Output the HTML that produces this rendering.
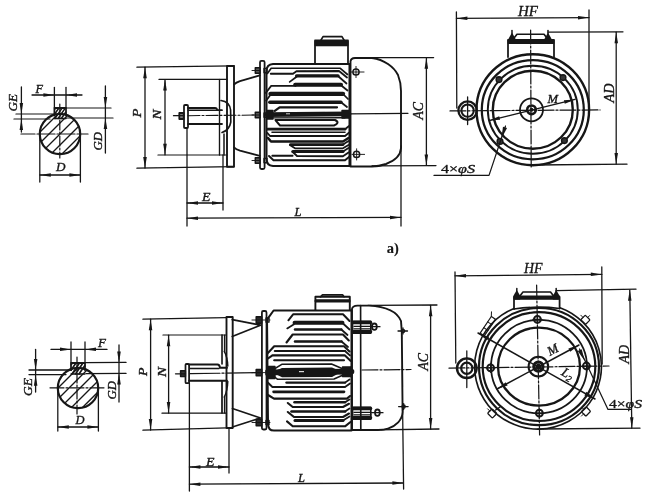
<!DOCTYPE html>
<html><head><meta charset="utf-8"><title>Motor outline drawing</title>
<style>
html,body{margin:0;padding:0;background:#fff;overflow:hidden;}
svg{display:block}
svg text{font-family:"Liberation Serif","DejaVu Serif",serif;fill:#151515;stroke:#151515;stroke-width:0.35px}
</style></head><body>
<svg width="650" height="495" viewBox="0 0 650 495">
<defs><filter id="soft" x="-2%" y="-2%" width="104%" height="104%"><feGaussianBlur stdDeviation="0.35"/></filter></defs>
<rect width="650" height="495" fill="#fff"/>
<g fill="none" stroke="#151515" stroke-linecap="round" stroke-linejoin="round" filter="url(#soft)">
<clipPath id="ca"><circle cx="60" cy="134" r="20.2"/></clipPath>
<g clip-path="url(#ca)">
<line x1="-14" y1="164" x2="46" y2="104" stroke-width="1.35"/>
<line x1="-3" y1="164" x2="57" y2="104" stroke-width="1.35"/>
<line x1="8" y1="164" x2="68" y2="104" stroke-width="1.35"/>
<line x1="19" y1="164" x2="79" y2="104" stroke-width="1.35"/>
<line x1="30" y1="164" x2="90" y2="104" stroke-width="1.35"/>
<line x1="41" y1="164" x2="101" y2="104" stroke-width="1.35"/>
<line x1="52" y1="164" x2="112" y2="104" stroke-width="1.35"/>
<line x1="63" y1="164" x2="123" y2="104" stroke-width="1.35"/>
<line x1="74" y1="164" x2="134" y2="104" stroke-width="1.35"/>
</g>
<ellipse cx="60" cy="134" rx="20.2" ry="20.2" stroke-width="2.16" fill="none"/>
<path d="M54.4,115.5 L54.4,108 L66,108 L66,115.5" stroke-width="1.76" fill="none"/>
<line x1="54.4" y1="118.5" x2="66" y2="118.5" stroke-width="1.35"/>
<line x1="54.7" y1="109.19999999999999" x2="55.5" y2="108.3" stroke-width="1.49"/>
<line x1="54.7" y1="114.0" x2="58.7" y2="108.3" stroke-width="1.49"/>
<line x1="54.9" y1="118.5" x2="61.9" y2="108.3" stroke-width="1.49"/>
<line x1="58.1" y1="118.5" x2="65.1" y2="108.3" stroke-width="1.49"/>
<line x1="61.3" y1="118.5" x2="65.7" y2="112.19999999999999" stroke-width="1.49"/>
<line x1="21" y1="134" x2="88" y2="134" stroke-width="1.22" stroke-dasharray="14 2 2 2"/>
<line x1="59.8" y1="104" x2="59.8" y2="158" stroke-width="1.22" stroke-dasharray="10 2 2 2"/>
<line x1="54.4" y1="87.5" x2="54.4" y2="108" stroke-width="1.28"/>
<line x1="66" y1="87.5" x2="66" y2="108" stroke-width="1.28"/>
<line x1="32" y1="95" x2="82" y2="95" stroke-width="1.28"/>
<polygon points="54.4,95.0 43.4,96.8 43.4,93.2" fill="#151515" stroke="none"/>
<polygon points="66.0,95.0 77.0,93.2 77.0,96.8" fill="#151515" stroke="none"/>
<text x="35.5" y="92.5" font-size="12" font-style="italic" font-weight="normal" text-anchor="start" textLength="7.5" lengthAdjust="spacingAndGlyphs">F</text>
<line x1="21.4" y1="87" x2="21.4" y2="132" stroke-width="1.28"/>
<polygon points="21.4,114.0 19.6,103.0 23.1,103.0" fill="#151515" stroke="none"/>
<polygon points="21.4,119.0 23.1,130.0 19.6,130.0" fill="#151515" stroke="none"/>
<line x1="16" y1="114" x2="54.4" y2="114" stroke-width="1.22"/>
<line x1="14" y1="119" x2="50" y2="119" stroke-width="1.22"/>
<text x="17" y="111.5" font-size="13" font-style="italic" font-weight="normal" text-anchor="start" transform="rotate(-90 17 111.5)" textLength="17.5" lengthAdjust="spacingAndGlyphs">GE</text>
<line x1="105.4" y1="86" x2="105.4" y2="153" stroke-width="1.28"/>
<polygon points="105.4,108.0 103.7,97.0 107.2,97.0" fill="#151515" stroke="none"/>
<polygon points="105.4,118.0 107.2,129.0 103.7,129.0" fill="#151515" stroke="none"/>
<line x1="66" y1="108" x2="111" y2="108" stroke-width="1.22"/>
<line x1="66" y1="118" x2="113" y2="118" stroke-width="1.22"/>
<text x="102" y="150.5" font-size="13" font-style="italic" font-weight="normal" text-anchor="start" transform="rotate(-90 102 150.5)" textLength="18.5" lengthAdjust="spacingAndGlyphs">GD</text>
<line x1="39.8" y1="134" x2="39.8" y2="182" stroke-width="1.28"/>
<line x1="80.4" y1="134" x2="80.4" y2="182" stroke-width="1.28"/>
<line x1="39.8" y1="175" x2="80.4" y2="175" stroke-width="1.28"/>
<polygon points="39.8,175.0 50.8,173.2 50.8,176.8" fill="#151515" stroke="none"/>
<polygon points="80.4,175.0 69.4,176.8 69.4,173.2" fill="#151515" stroke="none"/>
<text x="56" y="171" font-size="13" font-style="italic" font-weight="normal" text-anchor="start" textLength="9.5" lengthAdjust="spacingAndGlyphs">D</text>
<line x1="137" y1="67.2" x2="234" y2="65.8" stroke-width="1.35"/>
<line x1="137" y1="168.2" x2="234" y2="166.6" stroke-width="1.35"/>
<line x1="145" y1="67.2" x2="145" y2="168" stroke-width="1.28"/>
<polygon points="145.0,67.2 146.8,78.2 143.2,78.2" fill="#151515" stroke="none"/>
<polygon points="145.0,168.0 143.2,157.0 146.8,157.0" fill="#151515" stroke="none"/>
<line x1="159" y1="79.4" x2="227" y2="79.4" stroke-width="1.22"/>
<line x1="158" y1="155" x2="227" y2="155" stroke-width="1.22"/>
<line x1="165" y1="79.6" x2="165" y2="154.8" stroke-width="1.28"/>
<polygon points="165.0,79.6 166.8,90.6 163.2,90.6" fill="#151515" stroke="none"/>
<polygon points="165.0,154.8 163.2,143.8 166.8,143.8" fill="#151515" stroke="none"/>
<text x="141" y="117.5" font-size="13" font-style="italic" font-weight="normal" text-anchor="start" transform="rotate(-90 141 117.5)" textLength="9" lengthAdjust="spacingAndGlyphs">P</text>
<text x="161" y="119.5" font-size="13" font-style="italic" font-weight="normal" text-anchor="start" transform="rotate(-90 161 119.5)" textLength="10" lengthAdjust="spacingAndGlyphs">N</text>
<rect x="227" y="66" width="7" height="100.8" rx="0" stroke-width="1.89" fill="none"/>
<line x1="219.5" y1="79.4" x2="219.5" y2="155" stroke-width="1.35"/>
<line x1="224" y1="134" x2="224" y2="155" stroke-width="1.49"/>
<path d="M221,100.5 Q229.5,101.5 230.6,110 L230.8,122 Q229.5,130 222,132.5" stroke-width="1.62" fill="none"/>
<rect x="184" y="105" width="4" height="23" rx="1" stroke-width="1.76" fill="none"/>
<path d="M188,108 L215,108 Q217,108 217.2,110.2 L222,110.2" stroke-width="1.76" fill="none"/>
<path d="M188,124 L222,124" stroke-width="1.76" fill="none"/>
<line x1="188" y1="110.2" x2="217" y2="110.2" stroke-width="1.35"/>
<rect x="179.3" y="113" width="4.4" height="6" rx="0" stroke-width="1.76" fill="#777"/>
<line x1="173.5" y1="115.7" x2="184" y2="115.7" stroke-width="1.28"/>
<line x1="187" y1="128" x2="187" y2="226" stroke-width="1.28"/>
<line x1="223" y1="155" x2="223" y2="210" stroke-width="1.28"/>
<line x1="187" y1="203" x2="223" y2="203" stroke-width="1.28"/>
<polygon points="187.0,203.0 198.0,201.2 198.0,204.8" fill="#151515" stroke="none"/>
<polygon points="223.0,203.0 212.0,204.8 212.0,201.2" fill="#151515" stroke="none"/>
<text x="202" y="201" font-size="13" font-style="italic" font-weight="normal" text-anchor="start" textLength="8.5" lengthAdjust="spacingAndGlyphs">E</text>
<line x1="187" y1="218.2" x2="401" y2="217.4" stroke-width="1.28"/>
<polygon points="187.0,218.2 198.0,216.4 198.0,219.9" fill="#151515" stroke="none"/>
<polygon points="401.0,217.4 390.0,219.2 390.0,215.7" fill="#151515" stroke="none"/>
<text x="294.5" y="215.5" font-size="13" font-style="italic" font-weight="normal" text-anchor="start" textLength="7" lengthAdjust="spacingAndGlyphs">L</text>
<line x1="401" y1="146" x2="401" y2="226" stroke-width="1.28"/>
<line x1="188" y1="115.7" x2="260" y2="115" stroke-width="1.08" stroke-dasharray="12 2 2 2"/>
<line x1="349.5" y1="113.8" x2="408" y2="113.3" stroke-width="1.22"/>
<path d="M234,84.5 Q236,82.6 240,81.2 L259.8,75.3" stroke-width="1.76" fill="none"/>
<path d="M234,147.3 Q236,149.4 240,150.6 L259.8,155.8" stroke-width="1.76" fill="none"/>
<rect x="260" y="60.8" width="4.6" height="108.2" rx="1.5" stroke-width="1.76" fill="none"/>
<rect x="255.3" y="67.7" width="4.7" height="5.6" rx="0" stroke-width="1.49" fill="#555"/>
<rect x="264" y="68.3" width="3" height="4.4" rx="0" stroke-width="1.35" fill="none"/>
<line x1="252" y1="70.5" x2="260" y2="70.5" stroke-width="0.94"/>
<rect x="255.3" y="112.2" width="4.7" height="5.6" rx="0" stroke-width="1.49" fill="#555"/>
<rect x="264" y="112.8" width="3" height="4.4" rx="0" stroke-width="1.35" fill="none"/>
<line x1="252" y1="115" x2="260" y2="115" stroke-width="0.94"/>
<rect x="255.3" y="157.7" width="4.7" height="5.6" rx="0" stroke-width="1.49" fill="#555"/>
<rect x="264" y="158.3" width="3" height="4.4" rx="0" stroke-width="1.35" fill="none"/>
<line x1="252" y1="160.5" x2="260" y2="160.5" stroke-width="0.94"/>
<path d="M349.5,64 L273,64 Q266.5,64.5 266.5,71 L266.5,159 Q266.5,165.5 273,166 L349.5,166 Z" stroke-width="2.03" fill="none"/>
<path d="M315,64 L315,40.5 L348,40.5 L348,64" stroke-width="1.76" fill="none"/>
<rect x="315.5" y="41.5" width="32" height="4" rx="0" stroke-width="1.35" fill="#151515"/>
<path d="M320.5,41 L323,36.6 L342,36.6 L344.5,41" stroke-width="1.62" fill="none"/>
<path d="M267.4,73.5 L271.2,68.2 L340,68.2 L347.5,74.5" stroke-width="1.64" fill="none"/>
<path d="M270.8,73.8 L293,73.8 L296.5,71.2 L339,71 L347,77.5" stroke-width="1.87" fill="none"/>
<line x1="296.6" y1="75.9" x2="338" y2="75.9" stroke-width="3.39"/>
<path d="M296.6,76.8 L289.7,81.9" stroke-width="1.75" fill="none"/>
<path d="M338,76 L346.5,83.5" stroke-width="1.75" fill="none"/>
<path d="M265.9,92.8 L271.2,85.9 L295.5,85.9" stroke-width="1.75" fill="none"/>
<line x1="295.2" y1="84.8" x2="341" y2="84.8" stroke-width="4.09"/>
<path d="M341,85.2 L347.5,90.5" stroke-width="1.75" fill="none"/>
<line x1="270.5" y1="93.8" x2="343" y2="93.8" stroke-width="4.33"/>
<path d="M270.6,94.8 L266.2,100.5" stroke-width="1.75" fill="none"/>
<path d="M343,94 L348,99" stroke-width="1.75" fill="none"/>
<line x1="269.8" y1="102.2" x2="341" y2="102.2" stroke-width="3.39"/>
<path d="M341,102.2 L347,107" stroke-width="1.75" fill="none"/>
<path d="M274.8,110.8 L279.6,107.3 L337,107.3" stroke-width="2.22" fill="none"/>
<line x1="267" y1="114.6" x2="349" y2="113.9" stroke-width="4.56"/>
<rect x="266.8" y="110.5" width="6.2" height="8.5" rx="0" stroke-width="1.35" fill="#151515"/>
<rect x="342" y="110.5" width="7" height="7.5" rx="0" stroke-width="1.35" fill="#151515"/>
<rect x="286" y="113.3" width="4" height="1" fill="#ccc" stroke="none"/>
<line x1="272" y1="117.9" x2="345" y2="117.7" stroke-width="1.40"/>
<path d="M275.4,120 L335,120 Q340.5,122.7 334,125.5 L280,125.5 L275.6,120.4" stroke-width="1.99" fill="none"/>
<line x1="267.6" y1="129.2" x2="345" y2="129.2" stroke-width="2.69"/>
<path d="M345,129.2 L349,126" stroke-width="1.75" fill="none"/>
<line x1="272" y1="132.3" x2="345" y2="132.3" stroke-width="1.52"/>
<path d="M267.4,133 L270,136 L345,136 L349,132.8" stroke-width="1.87" fill="none"/>
<path d="M268,138 L271,141.5 L343,141.5 L348.5,138" stroke-width="2.57" fill="none"/>
<line x1="290.5" y1="144.6" x2="343" y2="144.6" stroke-width="2.81"/>
<path d="M343,144.6 L348.5,141" stroke-width="1.75" fill="none"/>
<path d="M289.8,145 L295,148.3 L343,148.3 L348.5,145" stroke-width="1.75" fill="none"/>
<line x1="292.8" y1="151.4" x2="343" y2="151.4" stroke-width="3.04"/>
<path d="M343,151.4 L348.5,148" stroke-width="1.75" fill="none"/>
<path d="M272.3,155.7 L292.6,155.7" stroke-width="1.87" fill="none"/>
<path d="M292.8,152 L297,156 L343,156.2 L348.5,152.5" stroke-width="1.87" fill="none"/>
<path d="M269,156 L273.5,160.2 L345,160.2 L349,157" stroke-width="1.99" fill="none"/>
<path d="M350.5,166.5 L350.5,61.5 Q350.8,58.2 355,58 L372,58 C384,59.5 394,67 398,75 C400,80 401,84 401,91 L401,148 C400.6,155.5 394,161 386,164 C381,165.7 377,166.5 372,166.5 Z" stroke-width="1.89" fill="none"/>
<ellipse cx="356" cy="72" rx="3.1" ry="3.1" stroke-width="1.49" fill="none"/>
<line x1="351.4" y1="72" x2="364" y2="72" stroke-width="0.94"/>
<line x1="356" y1="66.4" x2="356" y2="77.6" stroke-width="0.94"/>
<ellipse cx="356.6" cy="154.4" rx="3.1" ry="3.1" stroke-width="1.49" fill="none"/>
<line x1="352.0" y1="154.4" x2="364.6" y2="154.4" stroke-width="0.94"/>
<line x1="356.6" y1="148.8" x2="356.6" y2="160.0" stroke-width="0.94"/>
<line x1="368" y1="57.6" x2="433.6" y2="57.6" stroke-width="1.28"/>
<line x1="372" y1="165.8" x2="436" y2="165.6" stroke-width="1.28"/>
<line x1="426.4" y1="57.8" x2="426.4" y2="165.4" stroke-width="1.28"/>
<polygon points="426.4,57.8 428.1,68.8 424.6,68.8" fill="#151515" stroke="none"/>
<polygon points="426.4,165.4 424.6,154.4 428.1,154.4" fill="#151515" stroke="none"/>
<text x="423" y="119.5" font-size="14" font-style="italic" font-weight="normal" text-anchor="start" transform="rotate(-90 423 119.5)" textLength="17.5" lengthAdjust="spacingAndGlyphs">AC</text>
<ellipse cx="532.8" cy="109.7" rx="56.3" ry="55.5" stroke-width="2.36" fill="none"/>
<ellipse cx="532.8" cy="109.7" rx="51" ry="49.6" stroke-width="2.23" fill="none"/>
<ellipse cx="532.8" cy="109.7" rx="45" ry="44" stroke-width="1.89" fill="none"/>
<ellipse cx="532.8" cy="109.7" rx="40" ry="39" stroke-width="2.36" fill="none"/>
<ellipse cx="531.5" cy="109.8" rx="11.5" ry="11.5" stroke-width="1.76" fill="none"/>
<ellipse cx="531.5" cy="109.8" rx="4.3" ry="4.3" stroke-width="2.56" fill="none"/>
<ellipse cx="531.5" cy="109.8" rx="1.3" ry="1.3" stroke-width="1.35" fill="#151515"/>
<ellipse cx="499" cy="79.6" rx="2.9" ry="2.9" stroke-width="1.35" fill="#333"/>
<ellipse cx="563" cy="77.6" rx="2.9" ry="2.9" stroke-width="1.35" fill="#333"/>
<ellipse cx="500" cy="141.4" rx="2.9" ry="2.9" stroke-width="1.35" fill="#333"/>
<ellipse cx="564.4" cy="140.6" rx="2.9" ry="2.9" stroke-width="1.35" fill="#333"/>
<ellipse cx="467.6" cy="110.6" rx="9.2" ry="9.2" stroke-width="2.29" fill="none"/>
<ellipse cx="467.6" cy="110.6" rx="6.2" ry="6.2" stroke-width="2.03" fill="none"/>
<line x1="467.6" y1="97" x2="467.6" y2="124.5" stroke-width="1.28"/>
<line x1="450" y1="110.9" x2="600" y2="109.9" stroke-width="1.22" stroke-dasharray="16 2 2 2"/>
<line x1="530.6" y1="30" x2="531.2" y2="167" stroke-width="1.22" stroke-dasharray="14 2 2 2"/>
<path d="M508,57 L508,40 L554,40 L554,57" stroke-width="1.76" fill="none"/>
<rect x="508.5" y="40" width="45" height="3.2" rx="0" stroke-width="1.35" fill="#151515"/>
<path d="M512.5,40 L517,34.2 L544,34.2 L548.5,40" stroke-width="1.62" fill="none"/>
<line x1="512" y1="30.5" x2="512" y2="40" stroke-width="1.49"/>
<polygon points="508.2,42.5 508.4,39 512,32.5 515.6,39 515.8,42.5" fill="#151515" stroke="none"/>
<line x1="548" y1="30.5" x2="548" y2="40" stroke-width="1.49"/>
<polygon points="544.2,42.5 544.4,39 548,32.5 551.6,39 551.8,42.5" fill="#151515" stroke="none"/>
<line x1="456.4" y1="12" x2="456.8" y2="108" stroke-width="1.28"/>
<line x1="589" y1="10" x2="589" y2="112" stroke-width="1.28"/>
<line x1="456.4" y1="18.4" x2="589" y2="17.6" stroke-width="1.28"/>
<polygon points="456.4,18.4 467.4,16.6 467.4,20.1" fill="#151515" stroke="none"/>
<polygon points="589.0,17.6 578.0,19.4 578.0,15.9" fill="#151515" stroke="none"/>
<text x="518" y="16" font-size="15" font-style="italic" font-weight="normal" text-anchor="start" textLength="20" lengthAdjust="spacingAndGlyphs">HF</text>
<line x1="548" y1="32.2" x2="623" y2="31.8" stroke-width="1.28"/>
<line x1="534" y1="165" x2="627" y2="164.2" stroke-width="1.28"/>
<line x1="616.2" y1="32.2" x2="616.2" y2="164" stroke-width="1.28"/>
<polygon points="616.2,32.2 618.0,43.2 614.5,43.2" fill="#151515" stroke="none"/>
<polygon points="616.2,164.0 614.5,153.0 618.0,153.0" fill="#151515" stroke="none"/>
<text x="613.5" y="102.5" font-size="14" font-style="italic" font-weight="normal" text-anchor="start" transform="rotate(-90 613.5 102.5)" textLength="19" lengthAdjust="spacingAndGlyphs">AD</text>
<line x1="489" y1="120.6" x2="575" y2="99.4" stroke-width="1.35"/>
<polygon points="489.0,120.6 499.2,116.2 500.1,119.7" fill="#151515" stroke="none"/>
<polygon points="575.0,99.4 564.8,103.8 563.9,100.3" fill="#151515" stroke="none"/>
<text x="547.5" y="103" font-size="13" font-style="italic" font-weight="normal" text-anchor="start" textLength="10.5" lengthAdjust="spacingAndGlyphs">M</text>
<path d="M505.5,126 L489,175.4 L434,175.4" stroke-width="1.22" fill="none"/>
<polygon points="501.3,138.8 503.0,126.7 507.0,128.0" fill="#151515" stroke="none"/>
<text x="441" y="173" font-size="13" textLength="34" lengthAdjust="spacingAndGlyphs"><tspan>4×</tspan><tspan font-style="italic">φS</tspan></text>
<text x="386.8" y="253.2" font-size="14.5" font-style="normal" font-weight="bold" text-anchor="start" style="stroke-width:0.1px">a)</text>
<clipPath id="cb"><circle cx="78" cy="388" r="20.2"/></clipPath>
<g clip-path="url(#cb)">
<line x1="6" y1="418" x2="66" y2="358" stroke-width="1.35"/>
<line x1="17" y1="418" x2="77" y2="358" stroke-width="1.35"/>
<line x1="28" y1="418" x2="88" y2="358" stroke-width="1.35"/>
<line x1="39" y1="418" x2="99" y2="358" stroke-width="1.35"/>
<line x1="50" y1="418" x2="110" y2="358" stroke-width="1.35"/>
<line x1="61" y1="418" x2="121" y2="358" stroke-width="1.35"/>
<line x1="72" y1="418" x2="132" y2="358" stroke-width="1.35"/>
<line x1="83" y1="418" x2="143" y2="358" stroke-width="1.35"/>
<line x1="94" y1="418" x2="154" y2="358" stroke-width="1.35"/>
</g>
<ellipse cx="78" cy="388" rx="20.2" ry="20.2" stroke-width="2.16" fill="none"/>
<path d="M71,370 L71,363 L85,363 L85,370" stroke-width="1.76" fill="none"/>
<line x1="71" y1="374" x2="85" y2="374" stroke-width="1.35"/>
<line x1="71.3" y1="364.55" x2="72.3" y2="363.3" stroke-width="1.62"/>
<line x1="71.3" y1="369.8" x2="75.8" y2="363.3" stroke-width="1.62"/>
<line x1="72" y1="374" x2="79.3" y2="363.3" stroke-width="1.62"/>
<line x1="75.5" y1="374" x2="82.8" y2="363.3" stroke-width="1.62"/>
<line x1="79" y1="374" x2="84.7" y2="365.7" stroke-width="1.62"/>
<line x1="50" y1="387.8" x2="104" y2="387.8" stroke-width="1.22" stroke-dasharray="14 2 2 2"/>
<line x1="77" y1="357" x2="77" y2="414" stroke-width="1.22" stroke-dasharray="10 2 2 2"/>
<line x1="71" y1="342" x2="71" y2="363" stroke-width="1.28"/>
<line x1="85" y1="342" x2="85" y2="363" stroke-width="1.28"/>
<line x1="51" y1="349.4" x2="107" y2="349.4" stroke-width="1.28"/>
<polygon points="71.0,349.4 60.0,351.1 60.0,347.6" fill="#151515" stroke="none"/>
<polygon points="85.0,349.4 96.0,347.6 96.0,351.1" fill="#151515" stroke="none"/>
<text x="98" y="347" font-size="13" font-style="italic" font-weight="normal" text-anchor="start" textLength="8" lengthAdjust="spacingAndGlyphs">F</text>
<line x1="35.6" y1="349.5" x2="35.6" y2="392" stroke-width="1.28"/>
<polygon points="35.6,370.0 33.9,359.0 37.4,359.0" fill="#151515" stroke="none"/>
<polygon points="35.6,374.8 37.4,385.8 33.9,385.8" fill="#151515" stroke="none"/>
<line x1="29" y1="370" x2="71" y2="370" stroke-width="1.35"/>
<line x1="29" y1="374.6" x2="66" y2="374.6" stroke-width="1.35"/>
<text x="32" y="396" font-size="13" font-style="italic" font-weight="normal" text-anchor="start" transform="rotate(-90 32 396)" textLength="18" lengthAdjust="spacingAndGlyphs">GE</text>
<line x1="119" y1="345" x2="119" y2="402" stroke-width="1.28"/>
<polygon points="119.0,362.6 117.2,351.6 120.8,351.6" fill="#151515" stroke="none"/>
<polygon points="119.0,373.6 120.8,384.6 117.2,384.6" fill="#151515" stroke="none"/>
<line x1="85" y1="362.6" x2="126" y2="362.4" stroke-width="1.35"/>
<line x1="86" y1="373.6" x2="126" y2="373.4" stroke-width="1.35"/>
<text x="116" y="399.5" font-size="13" font-style="italic" font-weight="normal" text-anchor="start" transform="rotate(-90 116 399.5)" textLength="18.5" lengthAdjust="spacingAndGlyphs">GD</text>
<line x1="57.8" y1="388" x2="57.8" y2="431" stroke-width="1.28"/>
<line x1="98.4" y1="388" x2="98.4" y2="431" stroke-width="1.28"/>
<line x1="57.8" y1="427" x2="98.4" y2="427" stroke-width="1.28"/>
<polygon points="57.8,427.0 68.8,425.2 68.8,428.8" fill="#151515" stroke="none"/>
<polygon points="98.4,427.0 87.4,428.8 87.4,425.2" fill="#151515" stroke="none"/>
<text x="75.5" y="424" font-size="13" font-style="italic" font-weight="normal" text-anchor="start" textLength="9" lengthAdjust="spacingAndGlyphs">D</text>
<line x1="143" y1="319.2" x2="226.5" y2="317.6" stroke-width="1.35"/>
<line x1="143" y1="430.2" x2="227" y2="427.8" stroke-width="1.35"/>
<line x1="150.6" y1="319.2" x2="150.6" y2="430" stroke-width="1.28"/>
<polygon points="150.6,319.2 152.3,330.2 148.8,330.2" fill="#151515" stroke="none"/>
<polygon points="150.6,430.0 148.8,419.0 152.3,419.0" fill="#151515" stroke="none"/>
<line x1="163" y1="335" x2="226.5" y2="335" stroke-width="1.22"/>
<line x1="162" y1="413.2" x2="226.5" y2="413.2" stroke-width="1.22"/>
<line x1="168.6" y1="335.2" x2="168.6" y2="413" stroke-width="1.28"/>
<polygon points="168.6,335.2 170.3,346.2 166.8,346.2" fill="#151515" stroke="none"/>
<polygon points="168.6,413.0 166.8,402.0 170.3,402.0" fill="#151515" stroke="none"/>
<text x="146.8" y="376" font-size="13" font-style="italic" font-weight="normal" text-anchor="start" transform="rotate(-90 146.8 376)" textLength="8.5" lengthAdjust="spacingAndGlyphs">P</text>
<text x="165.5" y="377" font-size="13" font-style="italic" font-weight="normal" text-anchor="start" transform="rotate(-90 165.5 377)" textLength="10" lengthAdjust="spacingAndGlyphs">N</text>
<rect x="226.5" y="317" width="6.2" height="111" rx="0" stroke-width="1.89" fill="none"/>
<line x1="222" y1="335" x2="222" y2="364" stroke-width="1.62"/>
<line x1="222" y1="381" x2="222" y2="413" stroke-width="1.76"/>
<line x1="224.5" y1="335" x2="224.5" y2="352" stroke-width="1.22"/>
<line x1="224.5" y1="397" x2="224.5" y2="413" stroke-width="1.22"/>
<path d="M224.3,351.5 Q227.4,357 227.8,366" stroke-width="1.49" fill="none"/>
<path d="M224.3,397 Q227.4,391 227.8,381.5" stroke-width="1.49" fill="none"/>
<rect x="185.5" y="364" width="3.6" height="19.2" rx="1" stroke-width="1.76" fill="none"/>
<path d="M189,364.5 L217.5,364.5 Q219.6,364.6 220,367.8 L227,367.8" stroke-width="1.89" fill="none"/>
<line x1="190" y1="368.5" x2="219" y2="368.5" stroke-width="1.49"/>
<line x1="189" y1="380.7" x2="227" y2="380.7" stroke-width="1.89"/>
<rect x="180.6" y="370.8" width="4.8" height="5.8" rx="0" stroke-width="1.49" fill="#333"/>
<line x1="175.5" y1="373.8" x2="185.5" y2="373.8" stroke-width="1.28"/>
<line x1="190" y1="373.7" x2="262" y2="372.6" stroke-width="1.22" stroke-dasharray="30 2 2 2"/>
<path d="M232.2,319.7 L260.5,325.2 L232.2,336.5" stroke-width="1.69" fill="none"/>
<path d="M232.4,408.5 L260.5,418 L232.4,427" stroke-width="1.69" fill="none"/>
<rect x="261.9" y="311" width="4.6" height="118.5" rx="1.5" stroke-width="1.76" fill="none"/>
<rect x="256.2" y="316.8" width="5.6" height="6.4" rx="0" stroke-width="1.49" fill="#2a2a2a"/>
<rect x="266" y="317.8" width="3" height="4.4" rx="0" stroke-width="1.35" fill="none"/>
<line x1="252" y1="320" x2="270" y2="320" stroke-width="0.94"/>
<rect x="256.2" y="369.40000000000003" width="5.6" height="6.4" rx="0" stroke-width="1.49" fill="#2a2a2a"/>
<rect x="266" y="370.40000000000003" width="3" height="4.4" rx="0" stroke-width="1.35" fill="none"/>
<line x1="252" y1="372.6" x2="270" y2="372.6" stroke-width="0.94"/>
<rect x="256.2" y="419.3" width="5.6" height="6.4" rx="0" stroke-width="1.49" fill="#2a2a2a"/>
<rect x="266" y="420.3" width="3" height="4.4" rx="0" stroke-width="1.35" fill="none"/>
<line x1="252" y1="422.5" x2="270" y2="422.5" stroke-width="0.94"/>
<path d="M351.5,310.5 L273.6,310.5 L267,319.7 L268,424 Q268.2,430.6 274,430.6 L351.5,430.6 Z" stroke-width="2.03" fill="none"/>
<path d="M315.4,310 L315.4,296.8 L349.8,296.8 L349.8,310" stroke-width="1.89" fill="none"/>
<line x1="316.2" y1="300.9" x2="349" y2="300.9" stroke-width="3.38"/>
<path d="M320.5,296.8 L322.5,294.8 L342.5,294.8 L344,296.8" stroke-width="1.76" fill="none"/>
<path d="M288.4,320.3 L293.3,314.2 L343,314.2 L349.5,321" stroke-width="1.99" fill="none"/>
<line x1="294.5" y1="322.8" x2="342.5" y2="322.8" stroke-width="3.86"/>
<path d="M342.5,323 L349.5,329.5" stroke-width="1.75" fill="none"/>
<path d="M294,324.2 L287.2,328.4" stroke-width="1.75" fill="none"/>
<line x1="295" y1="329.5" x2="341.3" y2="329.5" stroke-width="2.46"/>
<path d="M341.3,329.5 L347.5,335" stroke-width="1.75" fill="none"/>
<path d="M286.5,342.5 L292.7,334.5 L343,334.5 L348.8,340.5" stroke-width="2.11" fill="none"/>
<line x1="295" y1="341.5" x2="341.5" y2="341.5" stroke-width="2.46"/>
<path d="M341.5,341.5 L348,347" stroke-width="1.75" fill="none"/>
<path d="M267.6,353.4 L274.2,346.2 L344,346.2 L349.5,351.5" stroke-width="2.11" fill="none"/>
<line x1="274.8" y1="351" x2="345" y2="351" stroke-width="2.11"/>
<path d="M345,351 L350,355.5" stroke-width="1.75" fill="none"/>
<path d="M268,358.5 L272.4,355.4 L345,355.4 L350.5,360.8" stroke-width="2.11" fill="none"/>
<line x1="274.2" y1="360.3" x2="344" y2="360.3" stroke-width="2.11"/>
<line x1="268.5" y1="372.4" x2="351.5" y2="371.6" stroke-width="5.67"/>
<polygon points="272,372.3 282,368 332,367.6 342,371.7 332,376.9 282,377.3" fill="#151515" stroke="none"/>
<rect x="268.5" y="366.5" width="6.5" height="12" rx="0" stroke-width="1.35" fill="#151515"/>
<rect x="342.5" y="367" width="9" height="9.5" rx="0" stroke-width="1.35" fill="#151515"/>
<path d="M275,368.5 L282.2,364.2 L331.5,364 L342,368.5" stroke-width="1.52" fill="none"/>
<path d="M274,376.5 L277.3,379.2 L334,379 L342,375.5" stroke-width="1.52" fill="none"/>
<rect x="299" y="371" width="5" height="1.2" fill="#ddd" stroke="none"/>
<line x1="286.5" y1="382.6" x2="345" y2="382.6" stroke-width="2.34"/>
<path d="M345,382.6 L349.5,379.5" stroke-width="1.75" fill="none"/>
<path d="M268,382.8 L272.4,387 L345,387 L350,383.5" stroke-width="1.87" fill="none"/>
<line x1="273.6" y1="391.8" x2="344" y2="391.8" stroke-width="2.69"/>
<path d="M268,395 L274,398.6 L347,398.6 L350,396" stroke-width="2.11" fill="none"/>
<line x1="294.5" y1="402.3" x2="345" y2="402.3" stroke-width="2.46"/>
<path d="M345,402.3 L349.5,399.5" stroke-width="1.75" fill="none"/>
<path d="M287.8,403 L292.7,407 L343,407 L349,403.8" stroke-width="2.11" fill="none"/>
<line x1="291.5" y1="411.5" x2="345" y2="411.5" stroke-width="2.69"/>
<path d="M345,411.5 L349.5,408.5" stroke-width="1.75" fill="none"/>
<path d="M287.8,412 L294,417 L343,417 L349,413.5" stroke-width="2.11" fill="none"/>
<line x1="295" y1="420.5" x2="343" y2="420.5" stroke-width="3.04"/>
<path d="M343,420.5 L349.5,416.5" stroke-width="1.75" fill="none"/>
<path d="M287,421.4 L292.7,426.3 L345,426.3 L350.5,422" stroke-width="2.11" fill="none"/>
<path d="M352,430 L352,309 Q352.4,305.8 357.5,305.6 L369,305.6 C384,306.4 397,311 401,321 L401.8,332 L402.6,412 C402.3,420 396,426 388,428.6 C385,429.6 382,430 378,430 Z" stroke-width="1.89" fill="none"/>
<line x1="360.6" y1="305.6" x2="360.8" y2="430" stroke-width="1.62"/>
<rect x="352.6" y="321.2" width="18.2" height="12" rx="0" stroke-width="1.62" fill="none"/>
<line x1="353.5" y1="322.59999999999997" x2="370.5" y2="322.59999999999997" stroke-width="3.51"/>
<line x1="353.5" y1="331.8" x2="370.5" y2="331.8" stroke-width="3.51"/>
<line x1="354" y1="326.3" x2="371" y2="326.3" stroke-width="1.22"/>
<line x1="354" y1="328.8" x2="371" y2="328.8" stroke-width="1.22"/>
<ellipse cx="374.4" cy="326.7" rx="2.4" ry="3.2" stroke-width="1.76" fill="none"/>
<line x1="370.8" y1="326.7" x2="380" y2="326.7" stroke-width="1.22"/>
<rect x="352.6" y="407.2" width="18.2" height="12" rx="0" stroke-width="1.62" fill="none"/>
<line x1="353.5" y1="408.59999999999997" x2="370.5" y2="408.59999999999997" stroke-width="3.51"/>
<line x1="353.5" y1="417.8" x2="370.5" y2="417.8" stroke-width="3.51"/>
<line x1="354" y1="412.3" x2="371" y2="412.3" stroke-width="1.22"/>
<line x1="354" y1="414.8" x2="371" y2="414.8" stroke-width="1.22"/>
<ellipse cx="377.4" cy="412.7" rx="2.4" ry="3.2" stroke-width="1.76" fill="none"/>
<line x1="370.8" y1="412.7" x2="383" y2="412.7" stroke-width="1.22"/>
<ellipse cx="403" cy="331" rx="1.6" ry="1.6" stroke-width="1.35" fill="none"/>
<line x1="398" y1="331" x2="407.5" y2="331" stroke-width="1.28"/>
<line x1="403" y1="328" x2="403" y2="334" stroke-width="1.28"/>
<ellipse cx="403.6" cy="406.6" rx="1.6" ry="1.6" stroke-width="1.35" fill="none"/>
<line x1="398.6" y1="406.6" x2="408.1" y2="406.6" stroke-width="1.28"/>
<line x1="403.6" y1="403.6" x2="403.6" y2="409.6" stroke-width="1.28"/>
<line x1="362" y1="370" x2="411" y2="369.5" stroke-width="1.22" stroke-dasharray="16 2 2 2"/>
<line x1="368" y1="305.4" x2="437" y2="305" stroke-width="1.28"/>
<line x1="378" y1="429.8" x2="439" y2="429" stroke-width="1.28"/>
<line x1="430.6" y1="305.3" x2="430.6" y2="429" stroke-width="1.28"/>
<polygon points="430.6,305.3 432.4,316.3 428.9,316.3" fill="#151515" stroke="none"/>
<polygon points="430.6,429.0 428.9,418.0 432.4,418.0" fill="#151515" stroke="none"/>
<text x="428" y="370.5" font-size="14" font-style="italic" font-weight="normal" text-anchor="start" transform="rotate(-90 428 370.5)" textLength="17.5" lengthAdjust="spacingAndGlyphs">AC</text>
<line x1="189.4" y1="383" x2="189.4" y2="491" stroke-width="1.28"/>
<line x1="229" y1="428" x2="229" y2="473" stroke-width="1.28"/>
<line x1="189.4" y1="467" x2="229" y2="467" stroke-width="1.28"/>
<polygon points="189.4,467.0 200.4,465.2 200.4,468.8" fill="#151515" stroke="none"/>
<polygon points="229.0,467.0 218.0,468.8 218.0,465.2" fill="#151515" stroke="none"/>
<text x="206" y="466" font-size="13" font-style="italic" font-weight="normal" text-anchor="start" textLength="8.5" lengthAdjust="spacingAndGlyphs">E</text>
<line x1="189.4" y1="484.2" x2="403.4" y2="483" stroke-width="1.28"/>
<polygon points="189.4,484.2 200.4,482.4 200.4,485.9" fill="#151515" stroke="none"/>
<polygon points="403.4,483.0 392.4,484.8 392.4,481.2" fill="#151515" stroke="none"/>
<text x="298" y="481.5" font-size="13" font-style="italic" font-weight="normal" text-anchor="start" textLength="7" lengthAdjust="spacingAndGlyphs">L</text>
<line x1="402.6" y1="408" x2="403.6" y2="489" stroke-width="1.28"/>
<path d="M514,308.6 A63.4,62.6 0 1 0 560,307.8" stroke-width="1.62" fill="none"/>
<ellipse cx="539" cy="366.6" rx="60" ry="58.6" stroke-width="2.16" fill="none"/>
<ellipse cx="539" cy="366.6" rx="56.3" ry="54.4" stroke-width="2.16" fill="none"/>
<ellipse cx="539" cy="366.6" rx="48" ry="46.8" stroke-width="1.76" fill="none"/>
<ellipse cx="539" cy="366.6" rx="41" ry="39" stroke-width="2.29" fill="none"/>
<ellipse cx="538.4" cy="366.6" rx="9.8" ry="9.8" stroke-width="2.03" fill="none"/>
<ellipse cx="538.4" cy="366.6" rx="4.6" ry="4.6" stroke-width="3.10" fill="none"/>
<ellipse cx="538.4" cy="366.6" rx="2.2" ry="2.2" stroke-width="1.35" fill="#151515"/>
<ellipse cx="537.4" cy="319.4" rx="3.4" ry="3.4" stroke-width="2.03" fill="none"/>
<line x1="532.9" y1="319.4" x2="541.9" y2="319.4" stroke-width="1.08"/>
<line x1="537.4" y1="314.9" x2="537.4" y2="323.9" stroke-width="1.08"/>
<ellipse cx="490.6" cy="367.9" rx="3.4" ry="3.4" stroke-width="2.03" fill="none"/>
<line x1="486.1" y1="367.9" x2="495.1" y2="367.9" stroke-width="1.08"/>
<line x1="490.6" y1="363.4" x2="490.6" y2="372.4" stroke-width="1.08"/>
<ellipse cx="539.4" cy="413.2" rx="3.4" ry="3.4" stroke-width="2.03" fill="none"/>
<line x1="534.9" y1="413.2" x2="543.9" y2="413.2" stroke-width="1.08"/>
<line x1="539.4" y1="408.7" x2="539.4" y2="417.7" stroke-width="1.08"/>
<ellipse cx="586.4" cy="366" rx="3.4" ry="3.4" stroke-width="2.03" fill="none"/>
<line x1="581.9" y1="366" x2="590.9" y2="366" stroke-width="1.08"/>
<line x1="586.4" y1="361.5" x2="586.4" y2="370.5" stroke-width="1.08"/>
<ellipse cx="466.8" cy="368.2" rx="9.8" ry="9.8" stroke-width="2.43" fill="none"/>
<ellipse cx="466.8" cy="368.2" rx="5.6" ry="5.6" stroke-width="2.16" fill="none"/>
<line x1="466.8" y1="351" x2="466.8" y2="387.5" stroke-width="1.28"/>
<line x1="449" y1="368.2" x2="609" y2="366" stroke-width="1.22" stroke-dasharray="16 2 2 2"/>
<line x1="536.6" y1="285" x2="539.6" y2="435" stroke-width="1.22" stroke-dasharray="14 2 2 2"/>
<path d="M514,309 L514,297 L559.6,297 L559.6,308.5" stroke-width="1.76" fill="none"/>
<rect x="514.5" y="296.2" width="44.6" height="2.8" rx="0" stroke-width="1.35" fill="#151515"/>
<path d="M519.5,296.5 L523,292 L550.5,292 L554,296.5" stroke-width="1.62" fill="none"/>
<line x1="516.8" y1="288.5" x2="516.8" y2="297" stroke-width="1.49"/>
<polygon points="513.4,299.4 513.5999999999999,295.5 516.8,290 520.0,295.5 520.1999999999999,299.4" fill="#151515" stroke="none"/>
<line x1="556.2" y1="288.5" x2="556.2" y2="297" stroke-width="1.49"/>
<polygon points="552.8000000000001,299.4 553.0,295.5 556.2,290 559.4000000000001,295.5 559.6,299.4" fill="#151515" stroke="none"/>
<path d="M514,309 Q537,305.6 559.6,308.5" stroke-width="1.62" fill="none"/>
<g transform="translate(487.8 326.2) rotate(-56)"><rect x="-10" y="-2.5" width="20" height="5" stroke-width="1.2" fill="none"/><line x1="-3.5" y1="-2.5" x2="-3.5" y2="2.5" stroke-width="1"/><line x1="3.5" y1="-2.5" x2="3.5" y2="2.5" stroke-width="1"/><line x1="10" y1="-2.5" x2="14" y2="-5" stroke-width="1"/></g>
<line x1="496" y1="409.8" x2="500" y2="407" stroke-width="1.35"/>
<g transform="translate(585.4 319.8) rotate(45)"><rect x="-3.4" y="-3.2" width="6.8" height="6.4" rx="1" stroke-width="1.3" fill="none"/><line x1="0" y1="-6" x2="0" y2="-3" stroke-width="0.9"/><line x1="-6.5" y1="0" x2="-3.4" y2="0" stroke-width="0.9"/></g>
<g transform="translate(492.2 413.4) rotate(45)"><rect x="-3.4" y="-3.2" width="6.8" height="6.4" rx="1" stroke-width="1.3" fill="none"/><line x1="0" y1="-6" x2="0" y2="-3" stroke-width="0.9"/><line x1="-6.5" y1="0" x2="-3.4" y2="0" stroke-width="0.9"/></g>
<g transform="translate(586 411.5) rotate(-45)"><rect x="-3.4" y="-3.2" width="6.8" height="6.4" rx="1" stroke-width="1.3" fill="none"/><line x1="0" y1="-6" x2="0" y2="-3" stroke-width="0.9"/><line x1="-6.5" y1="0" x2="-3.4" y2="0" stroke-width="0.9"/></g>
<line x1="455" y1="272" x2="455.8" y2="363" stroke-width="1.28"/>
<line x1="601.8" y1="267" x2="602.2" y2="364" stroke-width="1.28"/>
<line x1="455" y1="275.8" x2="601.8" y2="274.4" stroke-width="1.28"/>
<polygon points="455.0,275.8 466.0,274.1 466.0,277.6" fill="#151515" stroke="none"/>
<polygon points="601.8,274.4 590.8,276.1 590.8,272.6" fill="#151515" stroke="none"/>
<text x="524" y="273" font-size="15" font-style="italic" font-weight="normal" text-anchor="start" textLength="18.5" lengthAdjust="spacingAndGlyphs">HF</text>
<line x1="556" y1="290.6" x2="636" y2="289.2" stroke-width="1.28"/>
<line x1="538" y1="429" x2="640" y2="428.2" stroke-width="1.28"/>
<line x1="629.8" y1="290" x2="631.8" y2="428" stroke-width="1.28"/>
<polygon points="629.8,289.8 631.5,300.8 628.0,300.8" fill="#151515" stroke="none"/>
<polygon points="631.8,428.2 630.0,417.2 633.5,417.2" fill="#151515" stroke="none"/>
<text x="628.6" y="363.5" font-size="14" font-style="italic" font-weight="normal" text-anchor="start" transform="rotate(-90 628.6 363.5)" textLength="18.5" lengthAdjust="spacingAndGlyphs">AD</text>
<line x1="497" y1="389" x2="579" y2="345" stroke-width="1.49"/>
<polygon points="497.0,389.0 505.8,382.2 507.6,385.5" fill="#151515" stroke="none"/>
<polygon points="579.0,345.0 570.2,351.8 568.4,348.5" fill="#151515" stroke="none"/>
<text x="550" y="356" font-size="13" font-style="italic" transform="rotate(-28 550 356)">M</text>
<line x1="478" y1="333" x2="595" y2="399" stroke-width="1.49"/>
<polygon points="478.5,333.3 489.1,336.9 487.0,340.5" fill="#151515" stroke="none"/>
<polygon points="595.0,399.0 584.4,395.4 586.5,391.8" fill="#151515" stroke="none"/>
<text x="560.5" y="374.5" font-size="13" font-style="italic" transform="rotate(30 560.5 374.5)">L<tspan font-size="9" dy="2.5">2</tspan></text>
<path d="M579.5,349 L608,409.4 L631,409.4" stroke-width="1.22" fill="none"/>
<polygon points="584.8,361.0 577.7,351.1 581.7,349.2" fill="#151515" stroke="none"/>
<text x="609" y="408" font-size="13" textLength="33" lengthAdjust="spacingAndGlyphs"><tspan>4×</tspan><tspan font-style="italic">φS</tspan></text>
</g>
</svg>
</body></html>
